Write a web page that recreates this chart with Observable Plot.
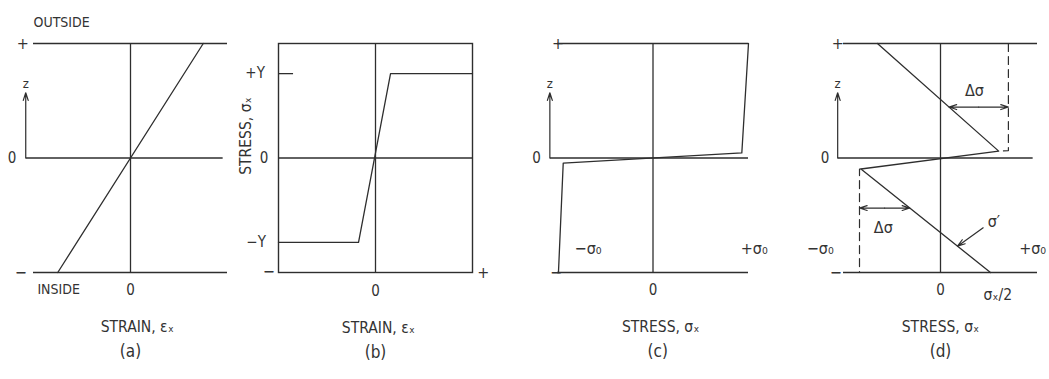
<!DOCTYPE html>
<html>
<head>
<meta charset="utf-8">
<script src="https://cdn.jsdelivr.net/npm/d3@7"></script>
<script src="https://cdn.jsdelivr.net/npm/@observablehq/plot@0.6"></script>
<style>
  html, body { margin: 0; padding: 0; background: #fff; }
  #fig { position: relative; width: 1049px; height: 379px; overflow: hidden; background: #fff; }
  #fig svg { position: absolute; top: 0; overflow: visible; }
</style>
</head>
<body>
<div id="fig"></div>
<script>
// Through-thickness coordinate z, normalised: +1 = outside surface, −1 = inside surface
const zSurfaces = [1, -1];
const zTickLabels = ["+", "0", "−"];

// (a) linear strain distribution through the thickness
const strainA = [-0.75, 0.75];
const zA = [-1, 1];

// (b) elastic – perfectly plastic stress-strain law (stress in units of Y)
const strainB = [-1, -0.175, 0.155, 1];
const stressB = [-1, -1, 1, 1];
const yieldLabels = ["+Y", "0", "−Y"];

// (c) stress distribution at full bending (units of σ0)
const stressC = [-0.99, -0.94, 0.93, 1];
const zC = [-1, -0.044, 0.044, 1];

// (d) distribution after springback
const stressD = [-0.65, 0.6, -0.82, 0.515];
const zD = [1, 0.06, -0.096, -1];
const dashRightX = [0.7, 0.7, 0.6];
const dashRightZ = [1, 0.065, 0.06];
const dashLeftX = [-0.82, -0.835, -0.835];
const dashLeftZ = [-0.096, -0.096, -1];
const deltaZ = [0.445, -0.437];
const primeZ = [-0.61, -0.77];

const captions = ["(a)", "(b)", "(c)", "(d)"];

const INK = "#2e2e2e";
const TXT = "#333";
const FONT = '"DejaVu Sans Condensed", "DejaVu Sans", sans-serif';
const fig = document.getElementById("fig");

const pts = (xs, ys) => xs.map((x, i) => ({x, y: ys[i]}));
// x on a straight segment of a profile at a given z
function xAt(xs, zs, i, z) {
  const t = (z - zs[i]) / (zs[i + 1] - zs[i]);
  return xs[i] + t * (xs[i + 1] - xs[i]);
}
const label = (s, x, y, o = {}) =>
  Plot.text([s], {x, y, text: d => d, fill: TXT, fontSize: 15, ...o});
const line = (data, o = {}) =>
  Plot.line(data, {x: "x", y: "y", stroke: INK, strokeWidth: 1.3, ...o});
const seg = (x1, y1, x2, y2, o = {}) =>
  Plot.link([0], {x1, y1, x2, y2, stroke: INK, strokeWidth: 1.3, ...o});
const arrow = (x1, y1, x2, y2, o = {}) =>
  Plot.arrow([0], {x1, y1, x2, y2, stroke: INK, strokeWidth: 1.2, headAngle: 36, headLength: 10, ...o});
// dimension line with a head at each end
const dimension = (x1, x2, y) => [
  arrow((x1 + x2) / 2, y, x1, y),
  arrow((x1 + x2) / 2, y, x2, y)
];

function panel(left, width, marginLeft, marginRight, yDomain, marks) {
  const svg = Plot.plot({
    width, height: 379,
    marginLeft, marginRight, marginTop: 43, marginBottom: 107,
    x: {domain: [-1, 1], axis: null},
    y: {domain: yDomain, axis: null},
    style: {background: "transparent", overflow: "visible", fontFamily: FONT},
    marks
  });
  svg.style.left = left + "px";
  fig.append(svg);
}

// surface lines, mid-plane, z arrow and z-axis labels shared by (a), (c), (d)
function thicknessFrame(zArrowX, zeroRight, tickX, zeroLabelX) {
  return [
    Plot.ruleY(zSurfaces, {x1: -1, x2: 1, stroke: INK, strokeWidth: 1.3}),
    seg(zArrowX, 0, zeroRight, 0),
    seg(0, -1, 0, 1),
    arrow(zArrowX, 0, zArrowX, 0.57),
    label("z", zArrowX, 0.65, {fontSize: 13}),
    label(zTickLabels[0], tickX, 1, {fontSize: 16}),
    label(zTickLabels[1], zeroLabelX, 0),
    label(zTickLabels[2], tickX - 0.02, -1, {fontSize: 16})
  ];
}

// (a) strain
panel(0, 245, 33, 18, [-1, 1], [
  ...thicknessFrame(-1.08, 0.95, -1.11, -1.22),
  line(pts(strainA, zA)),
  label("OUTSIDE", -1, 1.18, {textAnchor: "start", fontSize: 14}),
  label("INSIDE", -0.96, -1.145, {textAnchor: "start", fontSize: 14}),
  label("0", 0, -1.155),
  label("STRAIN, εₓ", 0.07, -1.48, {fontSize: 15.5}),
  label(captions[0], 0, -1.69, {fontSize: 17})
]);

// (b) stress-strain
panel(232, 283, 46, 43, [-1.357, 1.357], [
  Plot.frame({stroke: INK, strokeWidth: 1.4}),
  seg(-1, 0, 1, 0),
  seg(0, -1.357, 0, 1.357),
  seg(-1, 1, -0.85, 1),
  line(pts(strainB, stressB)),
  label(yieldLabels[0], -1.14, 1, {textAnchor: "end"}),
  label(yieldLabels[1], -1.15, 0),
  label(yieldLabels[2], -1.13, -1, {textAnchor: "end"}),
  label("−", -1.1, -1.35, {fontSize: 16}),
  label("+", 1.11, -1.36, {fontSize: 16}),
  label("0", 0, -1.58),
  label("STRESS, σₓ", -1.33, 0.26, {rotate: -90, fontSize: 15.5}),
  label("STRAIN, εₓ", 0.03, -2.02, {fontSize: 15.5}),
  label(captions[1], 0, -2.3, {fontSize: 17})
]);

// (c) bending stress
panel(515, 270, 42, 37, [-1, 1], [
  ...thicknessFrame(-1.08, 0.995, -0.995, -1.22),
  line(pts(stressC, zC)),
  label("−σ₀", -0.68, -0.79, {fontSize: 16}),
  label("+σ₀", 1.06, -0.79, {fontSize: 16}),
  label("0", 0, -1.155),
  label("STRESS, σₓ", 0.08, -1.48, {fontSize: 15.5}),
  label(captions[2], 0.05, -1.69, {fontSize: 17})
]);

// (d) residual stress after springback
const upperX = xAt(stressD, zD, 0, deltaZ[0]);
const lowerX = xAt(stressD, zD, 2, deltaZ[1]);
const primeX = xAt(stressD, zD, 2, primeZ[1]);
panel(785, 264, 58, 12, [-1, 1], [
  ...thicknessFrame(-1.06, 0.95, -1.06, -1.19),
  line(pts(stressD, zD)),
  line(pts(dashRightX, dashRightZ), {strokeDasharray: "8,5", strokeWidth: 1.2}),
  line(pts(dashLeftX, dashLeftZ), {strokeDasharray: "8,5", strokeWidth: 1.2}),
  ...dimension(upperX, dashRightX[0], deltaZ[0]),
  ...dimension(dashLeftX[1], lowerX, deltaZ[1]),
  arrow(0.44, primeZ[0], primeX, primeZ[1]),
  label("Δσ", 0.35, 0.59, {fontSize: 16}),
  label("Δσ", -0.59, -0.607, {fontSize: 16}),
  label("σ′", 0.55, -0.555, {fontSize: 16}),
  label("−σ₀", -1.24, -0.79, {fontSize: 16}),
  label("+σ₀", 0.95, -0.79, {fontSize: 16}),
  label("0", 0, -1.155),
  label("σₓ/2", 0.59, -1.2, {fontSize: 15.5}),
  label("STRESS, σₓ", 0, -1.48, {fontSize: 15.5}),
  label(captions[3], 0, -1.69, {fontSize: 17})
]);
</script>
</body>
</html>
